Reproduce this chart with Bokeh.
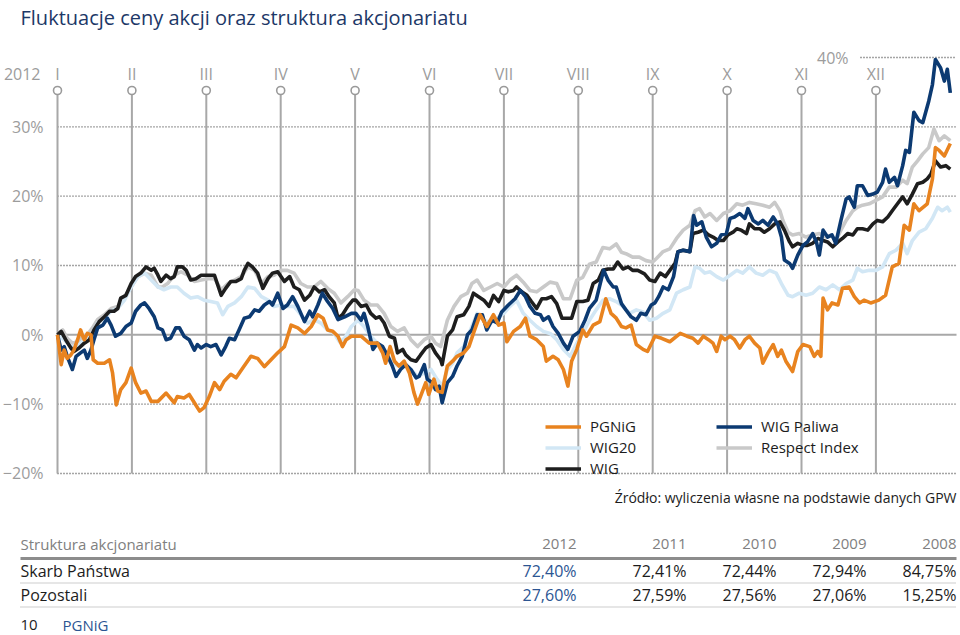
from bokeh.plotting import figure
from bokeh.models import Range1d, Legend, LegendItem
from bokeh.embed import file_html
from bokeh.resources import INLINE
from bokeh.core.properties import value

FONT = "Open Sans"

# ---------------- data (x = months since 1 Jan 2012, y = % change) ----------------
months = ["I", "II", "III", "IV", "V", "VI", "VII", "VIII", "IX", "X", "XI", "XII"]
month_pos = list(range(12))
y_ticks = [30, 20, 10, 0, -10, -20]
y_tick_labels = ["30%", "20%", "10%", "0%", "\u221210%", "\u221220%"]

pgnig_x = [0, 0.05, 0.09, 0.13, 0.18, 0.22, 0.27, 0.31, 0.34, 0.36, 0.40, 0.45, 0.48, 0.54, 0.63, 0.70, 0.74, 0.79, 0.85, 0.92,
           0.99, 1.05, 1.12, 1.19, 1.26, 1.35, 1.46, 1.57, 1.61, 1.70, 1.77, 1.84, 1.91, 1.97, 2.04, 2.11, 2.18, 2.24, 2.33, 2.40,
           2.49, 2.60, 2.69, 2.78, 2.87, 2.96, 3.05, 3.14, 3.23, 3.32, 3.41, 3.50, 3.57, 3.63, 3.70, 3.77, 3.83, 3.88, 3.95,
           4.08, 4.19, 4.30, 4.37, 4.41, 4.47, 4.53, 4.59, 4.66, 4.73, 4.79, 4.84, 4.90, 4.95, 4.99, 5.06, 5.11, 5.17, 5.24, 5.31,
           5.37, 5.46, 5.53, 5.59, 5.68, 5.77, 5.86, 5.93, 6.00, 6.04, 6.13, 6.22, 6.29, 6.35, 6.44, 6.53, 6.57, 6.66, 6.73, 6.80,
           6.86, 6.91, 6.98, 7.06, 7.11, 7.20, 7.29, 7.37, 7.44, 7.51, 7.58, 7.64, 7.71, 7.78, 7.87, 7.93,
           8.03, 8.12, 8.23, 8.37, 8.46, 8.54, 8.61, 8.68, 8.75, 8.81, 8.86, 8.92, 8.97, 9.04, 9.10, 9.17, 9.24, 9.30, 9.37, 9.44,
           9.48, 9.55, 9.62, 9.68, 9.73, 9.79, 9.88, 9.95, 10.02, 10.11, 10.17, 10.22, 10.26, 10.29, 10.35, 10.41, 10.49, 10.55, 10.64, 10.71,
           10.78, 10.84, 10.93, 11.04, 11.13, 11.22, 11.31, 11.38, 11.45, 11.51, 11.58, 11.69, 11.76, 11.80, 11.85, 11.92, 12.00]
pgnig_y = [0, -4.3, -2.2, -3.4, -2.9, -2.2, -0.7, 0.7, -0.2, -0.7, 0.2, 0, -3.6, -4.1, -4.1, -3.6, -5.5, -10.1, -7.9, -6.9,
           -4.8, -6.9, -8.4, -8.1, -9.6, -9.6, -8.4, -9.8, -8.9, -9.1, -8.6, -9.8, -11.0, -10.5, -8.9, -6.9, -7.9, -6.7, -5.7, -6.2,
           -4.8, -3.1, -3.4, -4.6, -3.6, -2.6, -1.7, 1.4, 1.0, 0.2, 1.2, 2.9, 2.4, 0.7, 0.5, -0.2, -1.7, -0.7, -0.2,
           -0.2, -1.2, -1.2, -2.6, -4.1, -1.7, -3.8, -4.5, -3.8, -5.5, -8.3, -10.0, -8.3, -6.9, -8.6, -6.4, -8.1, -8.3, -4.5, -3.8,
           -3.1, -2.6, -1.7, 0.2, 2.9, 1.2, 2.9, 1.4, 1.7, -1.0, 0.5, 1.2, 2.4, -0.2, -0.7, -1.7, -3.8, -3.1, -3.6, -5.0,
           -7.4, -3.8, -2.1, 0.7, -0.2, 1.4, 1.9, 5.2, 3.1, 2.4, 1.2, 1.0, 1.4, -1.4, -2.1, -2.4,
           -0.2, -0.5, -1.0, 0.2, -0.2, -0.5, -1.2, -0.2, -0.7, -1.2, -2.4, -0.2, -0.7, -0.2, -0.7, -1.9, -0.7, -0.2, -1.2, -1.9,
           -4.1, -2.6, -1.4, -3.1, -2.2, -3.8, -5.3, -2.4, -1.4, -1.7, -3.1, -2.4, -3.1, 5.3, 3.6, 4.6, 4.3, 6.7, 6.9, 5.5,
           4.6, 5.0, 4.6, 5.0, 5.7, 9.8, 10.3, 15.8, 15.1, 18.9, 17.9, 18.9, 22.5, 27.0, 26.6, 25.8, 27.6]

paliwa_x = [0, 0.05, 0.09, 0.13, 0.20, 0.25, 0.31, 0.36, 0.40, 0.45, 0.49, 0.54, 0.61, 0.67, 0.72, 0.78, 0.85, 0.92, 0.99, 1.05,
            1.12, 1.17, 1.23, 1.30, 1.35, 1.41, 1.46, 1.52, 1.59, 1.64, 1.70, 1.77, 1.84, 1.88, 1.93, 2.00, 2.06, 2.13, 2.20, 2.26,
            2.31, 2.38, 2.44, 2.51, 2.58, 2.65, 2.71, 2.78, 2.85, 2.89, 2.96, 3.03, 3.09, 3.16, 3.23, 3.32, 3.39, 3.43, 3.50, 3.56,
            3.63, 3.70, 3.77, 3.86, 3.95,
            4.01, 4.08, 4.12, 4.17, 4.24, 4.30, 4.37, 4.44, 4.50, 4.55, 4.61, 4.68, 4.75, 4.82, 4.86, 4.93, 4.97, 5.04, 5.08, 5.13,
            5.17, 5.24, 5.31, 5.37, 5.44, 5.51, 5.57, 5.64, 5.71, 5.77, 5.84, 5.91, 5.97, 6.06, 6.15, 6.22, 6.29, 6.35, 6.42, 6.49,
            6.53, 6.60, 6.66, 6.73, 6.80, 6.86, 6.93, 7.02, 7.09, 7.15, 7.24, 7.30, 7.34, 7.40, 7.47, 7.51, 7.58, 7.64, 7.71, 7.78,
            7.84, 7.91, 7.98,
            8.03, 8.08, 8.14, 8.21, 8.28, 8.34, 8.41, 8.50, 8.55, 8.59, 8.66, 8.72, 8.79, 8.86, 8.92, 8.99, 9.04, 9.10, 9.17, 9.24,
            9.28, 9.35, 9.42, 9.48, 9.55, 9.62, 9.68, 9.73, 9.77, 9.84, 9.88, 9.95, 10.02, 10.08, 10.15, 10.20, 10.24, 10.29, 10.35, 10.41,
            10.46, 10.53, 10.60, 10.64, 10.71, 10.75, 10.82, 10.89, 10.96, 11.02, 11.09, 11.13, 11.18, 11.25, 11.29, 11.36, 11.40, 11.45, 11.51, 11.58,
            11.63, 11.71, 11.76, 11.80, 11.87, 11.92, 11.96, 12.00]
paliwa_y = [0, -2.2, -1.7, -3.1, -5.0, -3.1, -2.6, -2.2, -3.4, -2.2, -0.7, 1.0, 1.4, 2.4, 1.4, -0.2, 0.2, 1.2, 1.7, 3.4,
            4.3, 4.6, 3.8, 2.6, 1.0, 0.7, -0.7, -0.5, 1.0, 1.0, -0.2, -0.7, -2.2, -1.4, -1.9, -1.4, -1.7, -1.4, -2.9, -1.7,
            -0.5, -0.7, 0.7, 2.4, 2.6, 3.6, 3.4, 4.3, 4.8, 4.3, 6.0, 3.8, 4.3, 5.5, 4.1, 1.9, 3.4, 2.6, 4.3, 6.0,
            4.8, 3.8, 2.2, 2.6, 3.1,
            3.1, 2.1, 3.1, 1.2, -2.1, -1.2, -1.7, -3.1, -4.5, -6.0, -5.0, -4.3, -5.0, -6.2, -6.0, -4.3, -6.4, -6.9, -7.9, -7.4,
            -9.8, -6.9, -6.0, -4.5, -3.1, 0, 0.7, 2.9, 2.9, 0.7, 2.1, 1.7, 3.3, 4.3, 5.2, 6.4, 5.5, 4.1, 3.1, 2.9,
            2.1, 2.6, 1.2, 0.2, -1.2, -2.1, -0.2, 0.5, 2.1, 3.8, 5.0, 7.6, 9.3, 7.9, 6.9, 6.9, 4.5, 3.6, 2.6, 2.1,
            3.1, 2.9, 4.3,
            4.6, 5.5, 6.9, 6.5, 8.4, 12.0, 12.2, 12.0, 17.2, 15.8, 16.3, 14.1, 12.7, 13.2, 14.4, 14.6, 16.8, 17.0, 17.5, 16.8,
            18.2, 16.5, 16.0, 16.5, 15.8, 17.0, 16.0, 14.1, 10.8, 10.3, 9.6, 11.5, 12.9, 13.4, 14.6, 13.4, 11.5, 15.1, 14.1, 14.4,
            13.2, 16.5, 19.6, 19.9, 18.4, 21.5, 21.5, 20.1, 20.3, 20.6, 22.0, 23.9, 22.0, 22.7, 21.5, 24.4, 26.6, 26.3, 32.1, 30.9,
            30.6, 33.7, 36.1, 39.7, 38.5, 36.6, 38.3, 34.9]

wig_x = [0, 0.05, 0.11, 0.18, 0.22, 0.29, 0.36, 0.43, 0.49, 0.56, 0.63, 0.70, 0.76, 0.81, 0.85, 0.92, 0.99, 1.05, 1.12, 1.19,
         1.26, 1.30, 1.35, 1.39, 1.46, 1.52, 1.57, 1.61, 1.68, 1.73, 1.79, 1.86, 1.93, 2.00, 2.06, 2.11, 2.20, 2.26, 2.33, 2.40,
         2.47, 2.51, 2.56, 2.62, 2.69, 2.76, 2.83, 2.89, 2.96, 3.05, 3.12, 3.18, 3.25, 3.32, 3.39, 3.45, 3.52, 3.59, 3.65, 3.72,
         3.77, 3.83, 3.90, 3.97,
         4.01, 4.08, 4.15, 4.21, 4.28, 4.33, 4.39, 4.46, 4.53, 4.57, 4.64, 4.68, 4.75, 4.82, 4.88, 4.95, 5.02, 5.08, 5.15, 5.17,
         5.24, 5.31, 5.37, 5.46, 5.53, 5.59, 5.66, 5.73, 5.80, 5.86, 5.93, 6.00, 6.06, 6.13, 6.17, 6.24, 6.31, 6.37, 6.44, 6.51,
         6.57, 6.64, 6.71, 6.78, 6.84, 6.91, 6.98, 7.06, 7.13, 7.20, 7.27, 7.33, 7.40, 7.47, 7.53, 7.60, 7.67, 7.73, 7.80, 7.89,
         7.96,
         8.03, 8.10, 8.17, 8.23, 8.30, 8.34, 8.41, 8.50, 8.54, 8.61, 8.68, 8.75, 8.81, 8.88, 8.95, 9.01, 9.08, 9.13, 9.19, 9.26,
         9.30, 9.37, 9.44, 9.50, 9.57, 9.64, 9.71, 9.77, 9.84, 9.88, 9.95, 10.02, 10.08, 10.15, 10.22, 10.29, 10.35, 10.42, 10.49, 10.55,
         10.62, 10.69, 10.75, 10.82, 10.89, 10.96, 11.02, 11.09, 11.16, 11.22, 11.29, 11.36, 11.42, 11.49, 11.56, 11.63, 11.69, 11.74, 11.80, 11.87,
         11.94, 12.00]
wig_y = [0, 0.5, -0.7, -1.9, -2.4, -1.9, -1.2, -0.7, 0.7, 1.9, 2.6, 3.4, 3.4, 3.8, 5.3, 5.7, 7.4, 8.4, 8.9, 9.8,
         9.3, 9.6, 8.6, 7.7, 8.6, 8.1, 8.4, 9.8, 9.8, 9.3, 7.9, 8.1, 8.6, 8.6, 8.6, 8.6, 5.7, 6.7, 7.7, 7.7,
         8.1, 9.3, 10.3, 9.8, 8.9, 6.7, 8.1, 8.9, 9.1, 7.7, 8.4, 6.9, 6.5, 5.0, 5.7, 6.9, 6.2, 6.5, 5.5, 4.6,
         2.4, 2.9, 4.1, 5.0,
         5.0, 4.1, 4.3, 3.1, 2.4, 2.6, 1.7, -0.2, -0.5, -2.6, -2.1, -2.9, -3.6, -3.8, -2.9, -1.9, -1.4, -2.6, -3.6, -4.3,
         -0.2, 0.7, 2.6, 2.9, 4.1, 6.0, 5.5, 5.0, 4.1, 5.7, 4.8, 6.4, 6.2, 6.4, 6.9, 6.2, 5.7, 4.8, 3.8, 5.2,
         5.2, 5.5, 4.5, 2.4, 2.4, 2.4, 4.8, 4.8, 5.0, 7.4, 7.9, 9.3, 9.5, 9.5, 10.5, 9.5, 9.8, 9.3, 9.3, 8.8,
         7.9,
         7.7, 8.9, 8.4, 9.3, 10.3, 12.0, 12.2, 12.0, 14.6, 14.8, 15.1, 14.4, 14.1, 13.6, 13.6, 14.4, 14.8, 15.3, 15.1, 14.6,
         16.0, 15.3, 15.3, 14.8, 15.3, 16.0, 16.3, 15.1, 13.4, 12.7, 13.2, 12.9, 12.9, 13.2, 13.9, 13.6, 13.4, 12.7, 13.4, 13.9,
         14.6, 14.4, 15.3, 15.3, 15.1, 16.0, 16.5, 16.3, 17.0, 17.9, 18.9, 19.9, 18.9, 20.3, 21.8, 22.0, 22.5, 23.2, 25.1, 24.2,
         24.4, 23.9]

respect_x = [0, 0.07, 0.13, 0.20, 0.27, 0.34, 0.40, 0.47, 0.54, 0.63, 0.72, 0.81, 0.90, 0.99, 1.08, 1.17, 1.26, 1.35, 1.41, 1.48,
             1.57, 1.66, 1.75, 1.84, 1.93, 2.02, 2.11, 2.20, 2.29, 2.38, 2.47, 2.56, 2.65, 2.74, 2.83, 2.91, 3.00, 3.09, 3.18, 3.27,
             3.36, 3.45, 3.54, 3.63, 3.72, 3.81, 3.90, 3.99,
             4.04, 4.12, 4.21, 4.30, 4.39, 4.48, 4.57, 4.66, 4.75, 4.84, 4.93, 5.02, 5.08, 5.15, 5.24, 5.33, 5.42, 5.51, 5.57, 5.64,
             5.73, 5.82, 5.91, 6.00, 6.08, 6.17, 6.26, 6.35, 6.44, 6.53, 6.62, 6.71, 6.80, 6.89, 6.98, 7.06, 7.15, 7.24, 7.33, 7.42,
             7.51, 7.58, 7.64, 7.73, 7.82, 7.91, 8.00,
             8.05, 8.14, 8.23, 8.32, 8.41, 8.50, 8.57, 8.63, 8.70, 8.77, 8.86, 8.95, 9.04, 9.13, 9.21, 9.30, 9.39, 9.48, 9.57, 9.64,
             9.71, 9.75, 9.82, 9.88, 9.97, 10.06, 10.15, 10.24, 10.33, 10.40, 10.46, 10.53, 10.60, 10.69, 10.75, 10.82, 10.91, 11.00, 11.09, 11.18,
             11.27, 11.36, 11.42, 11.49, 11.56, 11.63, 11.71, 11.78, 11.85, 11.92, 12.00]
respect_y = [0, 0.7, -0.5, -1.2, -1.0, -0.2, 0, 1.0, 2.2, 2.9, 3.8, 4.1, 5.5, 6.9, 8.4, 8.9, 8.6, 6.9, 6.9, 7.4,
             8.6, 9.1, 8.6, 7.7, 7.9, 8.1, 8.1, 6.5, 7.4, 7.9, 8.4, 9.8, 9.3, 7.4, 8.4, 8.6, 9.3, 9.3, 8.9, 7.4,
             6.9, 6.9, 7.7, 6.7, 6.0, 4.6, 5.5, 6.5,
             6.4, 5.0, 4.3, 4.3, 3.1, 1.2, 0.5, 1.0, -0.7, -1.7, -0.7, -0.2, -1.2, -1.7, 2.1, 4.1, 5.5, 6.0, 7.4, 7.9,
             6.4, 6.9, 7.4, 6.9, 7.9, 8.6, 7.6, 6.4, 6.2, 6.9, 7.6, 7.4, 5.2, 5.2, 7.9, 8.3, 10.2, 10.5, 12.6, 12.4,
             13.1, 11.9, 11.7, 11.2, 11.2, 10.7, 10.5,
             11.0, 12.0, 12.4, 13.9, 15.1, 15.8, 17.9, 18.2, 17.0, 17.5, 16.5, 17.5, 17.9, 18.9, 18.7, 19.1, 18.9, 18.7, 18.4, 19.1,
             17.9, 16.5, 14.8, 14.4, 14.6, 14.1, 14.4, 14.6, 14.1, 14.4, 13.6, 15.1, 16.5, 17.9, 18.4, 18.7, 18.9, 19.4, 19.9, 21.3,
             21.3, 22.3, 21.8, 24.2, 25.1, 26.1, 27.0, 29.7, 28.0, 28.7, 28.0]

wig20_x = [0, 0.09, 0.18, 0.27, 0.36, 0.45, 0.54, 0.63, 0.72, 0.81, 0.90, 0.99, 1.08, 1.17, 1.26, 1.35, 1.43, 1.52, 1.61, 1.70,
           1.79, 1.88, 1.97, 2.06, 2.15, 2.22, 2.29, 2.38, 2.47, 2.56, 2.65, 2.74, 2.83, 2.91, 3.00, 3.09, 3.18, 3.27, 3.36, 3.45,
           3.54, 3.63, 3.72, 3.79, 3.86, 3.95,
           4.04, 4.12, 4.21, 4.30, 4.39, 4.48, 4.57, 4.66, 4.75, 4.84, 4.93, 5.02, 5.10, 5.17, 5.24, 5.31, 5.37, 5.46, 5.55, 5.64,
           5.73, 5.82, 5.91, 6.00, 6.08, 6.17, 6.26, 6.35, 6.44, 6.53, 6.62, 6.71, 6.80, 6.89, 6.98, 7.06, 7.15, 7.24, 7.33, 7.42,
           7.51, 7.60, 7.69, 7.78, 7.87, 7.96,
           8.05, 8.14, 8.23, 8.32, 8.41, 8.50, 8.57, 8.63, 8.70, 8.77, 8.86, 8.95, 9.04, 9.13, 9.21, 9.30, 9.39, 9.48, 9.57, 9.66,
           9.73, 9.82, 9.88, 9.97, 10.06, 10.15, 10.24, 10.33, 10.42, 10.51, 10.60, 10.69, 10.75, 10.82, 10.91, 11.00, 11.09, 11.18, 11.27, 11.36,
           11.42, 11.49, 11.58, 11.67, 11.76, 11.83, 11.89, 11.96, 12.00]
wig20_y = [0, -0.7, -1.7, -1.7, -0.7, 0, 1.7, 2.4, 3.4, 3.8, 5.0, 6.9, 8.4, 8.9, 7.9, 6.9, 6.5, 6.9, 6.9, 6.0,
           5.3, 5.5, 5.0, 4.8, 4.6, 2.9, 4.1, 4.6, 5.5, 6.9, 6.7, 5.5, 5.0, 4.1, 4.3, 4.1, 4.1, 2.9, 1.7, 2.2,
           1.7, 0.7, 0.2, -1.0, -0.5, 1.2,
           2.1, 1.2, -0.2, -1.2, -2.1, -3.6, -4.5, -4.5, -5.0, -6.0, -5.5, -5.0, -6.4, -7.4, -5.0, -4.1, -2.6, -1.7, 0.7, 3.1,
           2.1, 1.7, 2.4, 3.1, 4.1, 5.0, 3.1, 2.1, 1.2, 0.5, 0.2, -0.7, -2.1, -3.1, -1.2, 0.2, 2.1, 3.6, 5.0, 5.2,
           4.8, 4.1, 3.1, 3.6, 3.3, 2.1,
           2.4, 3.1, 3.6, 6.0, 6.5, 6.9, 9.8, 9.6, 8.9, 9.1, 8.4, 7.9, 8.6, 9.3, 8.9, 9.8, 8.9, 8.6, 9.3, 8.9,
           7.4, 5.7, 5.5, 6.0, 5.7, 6.0, 6.9, 6.5, 7.2, 6.5, 7.4, 7.9, 9.6, 9.1, 9.3, 9.3, 9.8, 11.7, 12.2, 13.2,
           11.7, 13.6, 14.8, 15.3, 16.8, 18.4, 17.9, 18.4, 17.7]

table_years = ["2012", "2011", "2010", "2009", "2008"]
skarb_panstwa = ["72,40%", "72,41%", "72,44%", "72,94%", "84,75%"]
pozostali = ["27,60%", "27,59%", "27,56%", "27,06%", "15,25%"]

# ---------------- colours ----------------
C_PGNIG = "#e8831f"
C_WIG20 = "#d2e7f5"
C_WIG = "#1e1e1e"
C_PALIWA = "#0c3a72"
C_RESPECT = "#c9c9c9"
C_GRAY_TXT = "#9c9c9c"
C_BLUE_TXT = "#2c5592"
C_DARK = "#1c1c1c"

W, H = 960, 635
PXM = 74.4   # px per month
PXP = 6.933  # px per percent

p = figure(width=W, height=H, output_backend="svg", toolbar_location=None,
           x_range=Range1d(-57 / PXM, (W - 57) / PXM),
           y_range=Range1d(40 - (H - 57) / PXP, 40 + 57 / PXP),
           min_border=0, x_axis_location=None, y_axis_location=None)
p.grid.visible = False
p.outline_line_color = None
p.background_fill_color = "white"
p.border_fill_color = "white"
p.extra_x_ranges = {"px": Range1d(0, W)}
p.extra_y_ranges = {"px": Range1d(H, 0)}


def txt(x, y, s, size, color, align="left", xr="px", yr="px", font=FONT):
    p.text(x=x if isinstance(x, list) else [x], y=y if isinstance(y, list) else [y],
           text=s if isinstance(s, list) else [s],
           text_font=value(font), text_font_size=f"{size}px", text_color=color,
           text_align=align, text_baseline="middle", x_range_name=xr, y_range_name=yr)


# title
txt(20, 17, "Fluktuacje ceny akcji oraz struktura akcjonariatu", 20, "#1d3867")

# horizontal grid
grid_vals = [30, 20, 10, -10, -20]
p.segment(x0=[57] * len(grid_vals), x1=[956] * len(grid_vals), y0=grid_vals, y1=grid_vals,
          x_range_name="px", line_color="#4a4a4a", line_width=1.4, line_dash="1 2")
p.segment(x0=[860], x1=[956], y0=[40], y1=[40], x_range_name="px",
          line_color="#4a4a4a", line_width=1.4, line_dash="1 2")

# month lines
p.segment(x0=month_pos, x1=month_pos, y0=[90] * 12, y1=[473] * 12, y_range_name="px",
          line_color="#a8a8a8", line_width=2)
# zero line
p.segment(x0=[57], x1=[956], y0=[0], y1=[0], x_range_name="px", line_color="#a8a8a8", line_width=2)

# tick labels
txt([43] * len(y_ticks), y_ticks, y_tick_labels, 16, C_GRAY_TXT, align="right", yr="default")
txt(848, 40, "40%", 16, C_GRAY_TXT, align="right", yr="default")
txt(40, 73, "2012", 16, C_GRAY_TXT, align="right")
txt(month_pos, [73] * 12, months, 16, C_GRAY_TXT, align="center", xr="default")

# series
LW = 3.6
r_respect = p.line(respect_x, respect_y, line_color=C_RESPECT, line_width=LW, line_join="round")
r_wig20 = p.line(wig20_x, wig20_y, line_color=C_WIG20, line_width=LW, line_join="round")
r_wig = p.line(wig_x, wig_y, line_color=C_WIG, line_width=LW, line_join="round")
r_paliwa = p.line(paliwa_x, paliwa_y, line_color=C_PALIWA, line_width=LW, line_join="round")
r_pgnig = p.line(pgnig_x, pgnig_y, line_color=C_PGNIG, line_width=LW, line_join="round")

# month markers
p.scatter(x=month_pos, y=[90] * 12, y_range_name="px", marker="circle", size=8,
          fill_color="white", line_color="#9a9a9a", line_width=1.6)

# legends
common = dict(orientation="vertical", glyph_width=36, glyph_height=21, label_height=21,
              label_standoff=9, spacing=0, padding=0, margin=0, border_line_color=None,
              background_fill_alpha=0, label_text_font=FONT, label_text_font_size="15px",
              label_text_color=C_DARK, label_text_baseline="middle")
leg1 = Legend(items=[LegendItem(label="PGNiG", renderers=[r_pgnig]),
                     LegendItem(label="WIG20", renderers=[r_wig20]),
                     LegendItem(label="WIG", renderers=[r_wig])],
              location=(545, H - 478.5), **common)
leg2 = Legend(items=[LegendItem(label="WIG Paliwa", renderers=[r_paliwa]),
                     LegendItem(label="Respect Index", renderers=[r_respect])],
              location=(716, H - 457.5), **common)
p.add_layout(leg1)
p.add_layout(leg2)

# source
txt(956, 497, "\u0179r\u00f3d\u0142o: wyliczenia w\u0142asne na podstawie danych GPW", 14, C_DARK, align="right")

# table
col_x = [576, 686, 776, 866, 956]
txt(20, 543, "Struktura akcjonariatu", 15, "#808080")
txt(col_x, [543] * 5, table_years, 15, "#808080", align="right")
p.segment(x0=[20], x1=[956], y0=[558], y1=[558], x_range_name="px", y_range_name="px",
          line_color="#8c8c8c", line_width=3)
txt(20, 570, "Skarb Pa\u0144stwa", 16, C_DARK)
txt(col_x[1:], [570] * 4, skarb_panstwa[1:], 16, C_DARK, align="right")
txt(col_x[0], 570, skarb_panstwa[0], 16, C_BLUE_TXT, align="right")
p.segment(x0=[20, 20], x1=[956, 956], y0=[582.5, 606.5], y1=[582.5, 606.5], x_range_name="px",
          y_range_name="px", line_color="#9a9a9a", line_width=1, line_dash="1 1")
txt(20, 594, "Pozostali", 16, C_DARK)
txt(col_x[1:], [594] * 4, pozostali[1:], 16, C_DARK, align="right")
txt(col_x[0], 594, pozostali[0], 16, C_BLUE_TXT, align="right")

# footer
txt(20, 624, "10", 15, C_DARK)
txt(62, 624, "PGNiG", 15, C_BLUE_TXT)

open("out.html", "w").write(file_html(p, INLINE))
